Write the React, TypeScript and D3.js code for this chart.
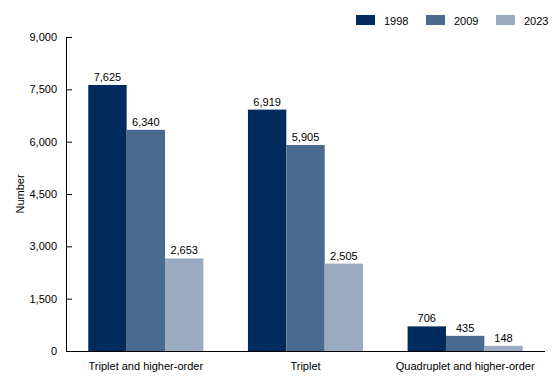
import React from "react";
import * as d3 from "d3";

const categories = ["Triplet and higher-order", "Triplet", "Quadruplet and higher-order"];
const years = ["1998", "2009", "2023"];
const values1998 = [7625, 6919, 706];
const values2009 = [6340, 5905, 435];
const values2023 = [2653, 2505, 148];
const yTicks = [0, 1500, 3000, 4500, 6000, 7500, 9000];
const colors = ["#002B5C", "#4B6A8F", "#9AABC2"];

export default function App() {
  const W = 560, H = 383;
  const left = 66, right = 545, top = 37, bottom = 351;
  const series = [values1998, values2009, values2023];
  const x0 = d3.scaleBand<string>().domain(categories).range([left, right]).padding(0);
  const x1 = d3.scaleBand<string>().domain(years).range([0, x0.bandwidth()]).paddingInner(0).paddingOuter(0.58);
  const y = d3.scaleLinear().domain([0, 9000]).range([bottom, top]);
  const fmt = d3.format(",");
  const font = "'Liberation Sans', Arial, sans-serif";

  return (
    <svg width={W} height={H} style={{ position: "absolute", left: 0, top: 0 }} fontFamily={font}>
      {/* legend */}
      {years.map((yr, i) => (
        <g key={yr} transform={`translate(${356 + i * 70},15)`}>
          <rect width={19} height={10} fill={colors[i]} />
          <text x={28} y={9.5} fontSize={11} fill="#000">{yr}</text>
        </g>
      ))}
      {/* y axis */}
      <line x1={left + 0.5} x2={left + 0.5} y1={top} y2={bottom} stroke="#000" strokeWidth={1} />
      {yTicks.map((t) => (
        <g key={t}>
          {t > 0 && <line x1={left} x2={left + 6} y1={y(t) + 0.5} y2={y(t) + 0.5} stroke="#000" />}
          <text x={57} y={y(t) + 4} fontSize={11} textAnchor="end" fill="#000">{fmt(t)}</text>
        </g>
      ))}
      <text transform={`translate(24,${(top + bottom) / 2}) rotate(-90)`} fontSize={11} textAnchor="middle" fill="#000">Number</text>
      {/* bars */}
      {categories.map((c, ci) => (
        <g key={c} transform={`translate(${x0(c)},0)`}>
          {years.map((yr, si) => {
            const v = series[si][ci];
            const bx = x1(yr)!;
            return (
              <g key={yr}>
                <rect x={bx} y={y(v)} width={x1.bandwidth()} height={bottom - y(v)} fill={colors[si]} />
                <text x={bx + x1.bandwidth() / 2} y={y(v) - 4} fontSize={11} textAnchor="middle" fill="#000">{fmt(v)}</text>
              </g>
            );
          })}
          <text x={x0.bandwidth() / 2} y={370} fontSize={11} textAnchor="middle" fill="#000">{c}</text>
        </g>
      ))}
      <line x1={left} x2={right} y1={bottom + 0.5} y2={bottom + 0.5} stroke="#000" strokeWidth={1} />
    </svg>
  );
}
